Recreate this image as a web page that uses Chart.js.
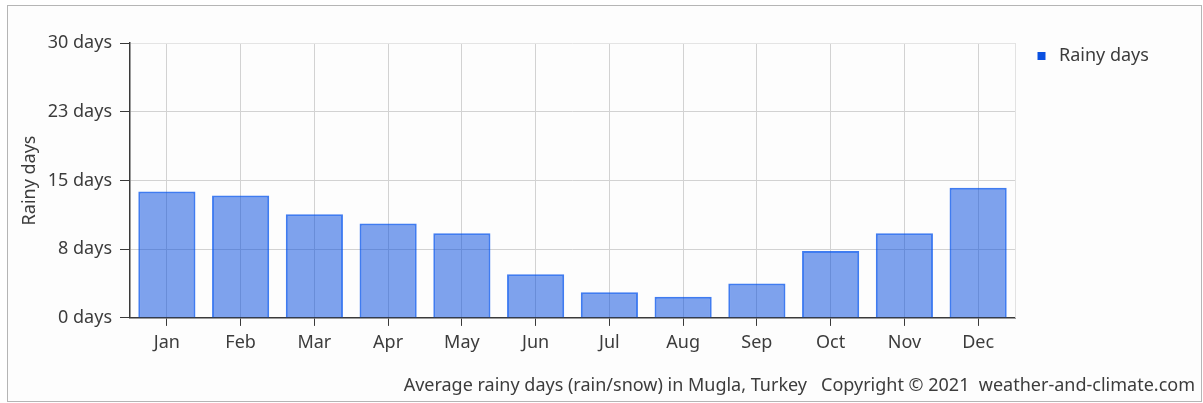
<!DOCTYPE html>
<html>
<head>
<meta charset="utf-8">
<script src="https://cdn.jsdelivr.net/npm/chart.js@4.4.0/dist/chart.umd.min.js"></script>
<style>
  html, body { margin: 0; padding: 0; background: #fff; }
  #frame {
    position: absolute; left: 7px; top: 5px;
    width: 1193px; height: 395px;
    border: 1px solid #b5b5b5; background: #fdfdfd;
  }
  canvas { display: block; }
</style>
</head>
<body>
<div id="frame"><canvas id="chart" width="1193" height="395"></canvas></div>
<script>
const months = ['Jan', 'Feb', 'Mar', 'Apr', 'May', 'Jun', 'Jul', 'Aug', 'Sep', 'Oct', 'Nov', 'Dec'];
const rainyDays = [13.8, 13.35, 11.3, 10.3, 9.25, 4.75, 2.8, 2.3, 3.75, 7.3, 9.25, 14.2];
const yTicks = [0, 7.5, 15, 22.5, 30];
const seriesName = 'Rainy days';
const footerText = 'Average rainy days (rain/snow) in Mugla, Turkey   Copyright \u00a9 2021  weather-and-climate.com';

const FONT = '"Noto Sans", "DejaVu Sans", sans-serif';
const TEXT = '#3c3c3c';

// widen the right-hand legend box so the plot ends where the original does
const legendWidth = {
    id: 'legendWidth',
    beforeLayout(chart) {
        const lg = chart.legend;
        if (lg && !lg._patched) {
            const fit = lg.fit;
            lg.fit = function() { fit.call(this); this.width = 180; };
            lg._patched = true;
        }
    }
};

// light frame on the right edge of the plot area
const plotFrame = {
    id: 'plotFrame',
    beforeDatasetsDraw(chart) {
        const {ctx, chartArea: a} = chart;
        ctx.save();
        ctx.strokeStyle = '#e2e2e2';
        ctx.lineWidth = 1;
        ctx.beginPath();
        ctx.moveTo(a.right + 0.5, a.top);
        ctx.lineTo(a.right + 0.5, a.bottom);
        ctx.stroke();
        ctx.restore();
    }
};

new Chart(document.getElementById('chart'), {
    type: 'bar',
    data: {
        labels: months,
        datasets: [{
            label: seriesName,
            data: rainyDays,
            backgroundColor: 'rgba(0, 72, 221, 0.5)',
            borderColor: 'rgba(0, 80, 235, 0.75)',
            borderWidth: 2,
            categoryPercentage: 1,
            barPercentage: 0.775
        }]
    },
    plugins: [legendWidth, plotFrame],
    options: {
        responsive: false,
        animation: false,
        layout: { padding: { top: 23, left: 0, right: 6, bottom: 4 } },
        plugins: {
            tooltip: { enabled: false },
            legend: {
                position: 'right',
                align: 'start',
                labels: {
                    color: TEXT,
                    font: { family: FONT, size: 18 },
                    usePointStyle: true,
                    pointStyle: 'rect',
                    boxWidth: 17,
                    boxHeight: 8,
                    padding: 18,
                    generateLabels(chart) {
                        return Chart.defaults.plugins.legend.labels.generateLabels(chart).map(l => ({
                            ...l, fillStyle: '#0a50e0', strokeStyle: '#0a50e0', lineWidth: 0
                        }));
                    }
                }
            },
            title: {
                display: true,
                position: 'bottom',
                align: 'end',
                text: footerText,
                color: TEXT,
                font: { family: FONT, size: 18, weight: 'normal' },
                padding: 0
            }
        },
        scales: {
            x: {
                offset: true,
                grid: { offset: false, color: '#d2d2d2', tickColor: '#3a3a3a', tickLength: 8 },
                border: { color: '#3a3a3a', width: 1.5 },
                ticks: { color: TEXT, font: { family: FONT, size: 18 }, padding: 6 },
                afterFit(scale) { scale.height = 57.5; }
            },
            y: {
                min: 0,
                max: 30,
                afterBuildTicks(axis) { axis.ticks = yTicks.map(v => ({ value: v })); },
                grid: {
                    color: ctx => (ctx.tick && ctx.tick.value === 30) ? '#e4e4e4' : '#d2d2d2',
                    tickColor: '#3a3a3a',
                    tickLength: 10
                },
                border: { color: '#3a3a3a', width: 1.5 },
                ticks: {
                    color: TEXT,
                    font: { family: FONT, size: 18 },
                    padding: 8,
                    callback: v => Math.round(v) + ' days'
                },
                title: {
                    display: true,
                    text: 'Rainy days',
                    color: TEXT,
                    font: { family: FONT, size: 18 },
                    padding: { top: 11, bottom: 0 }
                },
                afterFit(scale) { scale.width = 122; scale.paddingTop = 37; }
            }
        }
    }
});
</script>
</body>
</html>
